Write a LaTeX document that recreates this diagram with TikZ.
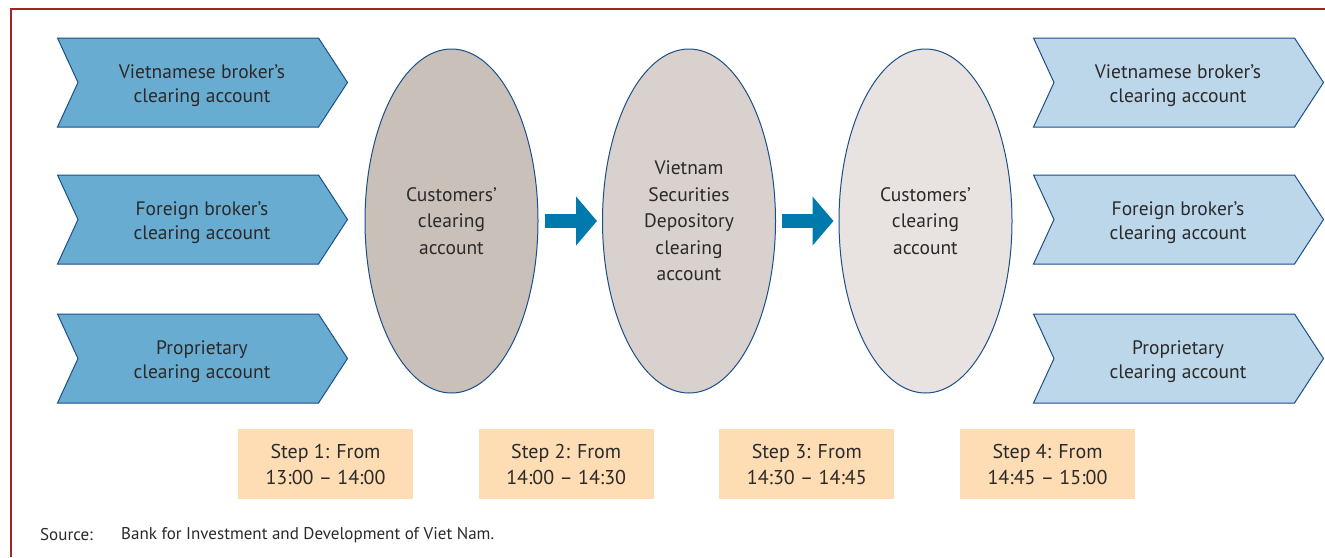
\documentclass[tikz,border=0pt]{standalone}
\usepackage{fontspec}
\setmainfont{PT Sans}
\usetikzlibrary{shapes.geometric,arrows.meta}
\definecolor{framered}{HTML}{A02525}
\definecolor{leftfill}{HTML}{68ACD2}
\definecolor{rightfill}{HTML}{BDD7EA}
\definecolor{edgeblue}{HTML}{1B4F8A}
\definecolor{ellA}{HTML}{C9C0BA}
\definecolor{ellB}{HTML}{D9D1CD}
\definecolor{ellC}{HTML}{E8E3E0}
\definecolor{arrowblue}{HTML}{0079AD}
\definecolor{stepfill}{HTML}{FEDCB4}
\definecolor{txt}{HTML}{2A2A2A}
\tikzset{
  chevline/.style={draw=edgeblue, line width=1pt, line join=miter},
  chevtext/.style={align=center, text=txt, font=\fontsize{19.5}{23.5}\selectfont, inner sep=0pt, yshift=-3pt},
  acct/.style={ellipse, draw=edgeblue, line width=1pt, minimum width=173pt, minimum height=344pt, inner sep=0pt, align=center, text=txt, font=\fontsize{19.5}{26.5}\selectfont},
  stepbox/.style={rectangle, fill=stepfill, minimum width=175pt, minimum height=70pt, inner sep=0pt, align=center, text=txt, font=\fontsize{20}{26}\selectfont},
  flow/.style={draw=arrowblue, line width=14pt, -{Triangle[width=48pt,length=21pt]}, shorten <=6pt, shorten >=5pt},
  srctext/.style={anchor=west, text=txt, font=\fontsize{17}{20}\selectfont, inner sep=0pt}
}
\newcommand\chevron[5]{%
  \draw[chevline,fill=#4] (#2-144.5,#3-44.5) -- ++(261,0) -- ++(29,44.5) -- ++(-29,44.5) -- ++(-261,0) -- ++(20.5,-44.5) -- cycle;
  \node[chevtext] (#1) at (#2,#3) {#5};}
\newcommand\elltext[1]{\raisebox{-2pt}{\parbox{100pt}{\centering #1}}}
\begin{document}
\begin{tikzpicture}[x=1pt,y=-1pt]
\useasboundingbox (0,0) rectangle (1325,557);
\fill[white] (0,0) rectangle (1325,557);
\draw[framered, line width=1.5pt] (11,557) -- (11,9) -- (1325,9);
% left chevrons
\chevron{lvb}{202}{82.5}{leftfill}{Vietnamese broker’s\\clearing account}
\chevron{lfb}{202}{219.5}{leftfill}{Foreign broker’s\\clearing account}
\chevron{lpr}{202}{358.5}{leftfill}{Proprietary\\clearing account}
% right chevrons
\chevron{rvb}{1178}{82.5}{rightfill}{Vietnamese broker’s\\clearing account}
\chevron{rfb}{1178}{219.5}{rightfill}{Foreign broker’s\\clearing account}
\chevron{rpr}{1178}{358.5}{rightfill}{Proprietary\\clearing account}
% ellipses
\node[acct, fill=ellA] (e1) at (451.5,221) {\elltext{Customers’\\clearing\\account}};
\node[acct, fill=ellB] (e2) at (689,221) {\elltext{Vietnam\\Securities\\Depository\\clearing\\account}};
\node[acct, fill=ellC] (e3) at (925.5,221) {\elltext{Customers’\\clearing\\account}};
\draw[flow] (e1.east) -- (e2.west);
\draw[flow] (e2.east) -- (e3.west);
% steps
\node[stepbox] (s1) at (325.5,464) {Step 1: From\\13:00 – 14:00};
\node[stepbox] (s2) at (566.2,464) {Step 2: From\\14:00 – 14:30};
\node[stepbox] (s3) at (806.8,464) {Step 3: From\\14:30 – 14:45};
\node[stepbox] (s4) at (1047.5,464) {Step 4: From\\14:45 – 15:00};
% source
\node[srctext] (srcl) at (40,535) {Source:};
\node[srctext] (srct) at (121,535) {Bank for Investment and Development of Viet Nam.};
\end{tikzpicture}
\end{document}
